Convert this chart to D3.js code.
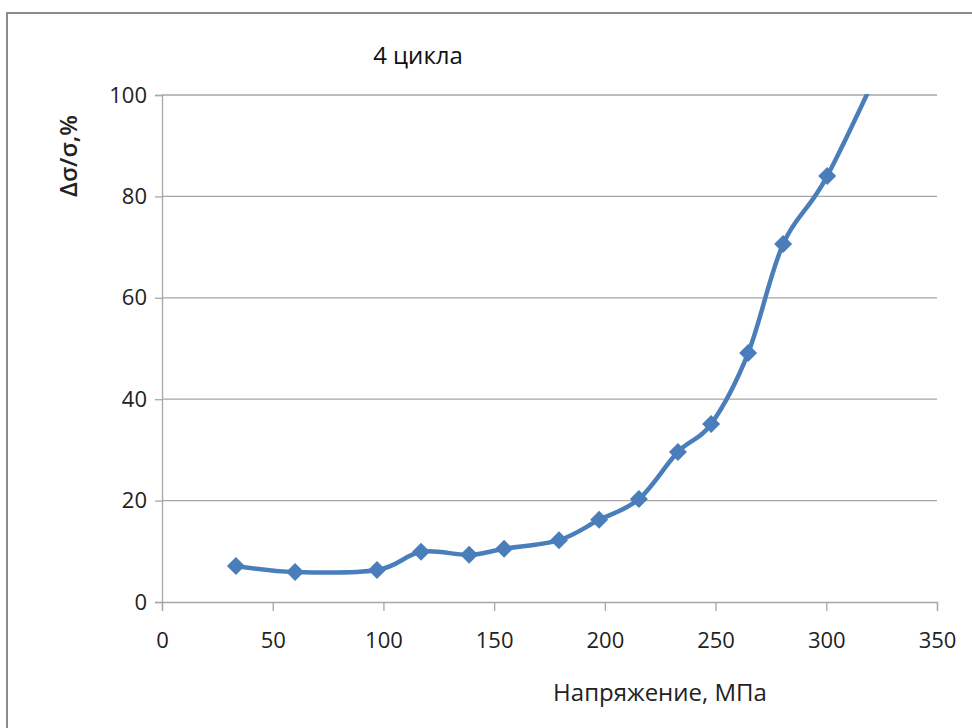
<!DOCTYPE html>
<html><head><meta charset="utf-8">
<script src="https://cdn.jsdelivr.net/npm/d3@7"></script>
<style>body{margin:0;background:#fff;} text{font-family:"Open Sans","Liberation Sans",sans-serif;}</style>
</head><body>
<svg id="c" width="972" height="728"></svg>
<script>
const stress = [33.4, 60.1, 97.1, 117, 138.7, 154.5, 179.3, 197.4, 215.4, 233, 248, 264.7, 280.5, 300.4, 332];
const delta  = [7.1, 5.9, 6.3, 9.9, 9.3, 10.5, 12.2, 16.2, 20.3, 29.6, 35.1, 49.1, 70.6, 84.0, 113];
const xTicks = [0, 50, 100, 150, 200, 250, 300, 350];
const yTicks = [0, 20, 40, 60, 80, 100];
const title = "4 цикла";
const xTitle = "Напряжение, МПа";
const yTitle = "Δσ/σ,%";

const svg = d3.select("#c");
const L = 162, R = 937, T = 95, B = 602;
const x = d3.scaleLinear().domain([0, 350]).range([L, R]);
const y = d3.scaleLinear().domain([0, 100]).range([B, T]);

// outer border
svg.append("rect").attr("x", 7).attr("y", 13).attr("width", 980).attr("height", 730)
  .attr("fill", "none").attr("stroke", "#8c8c8c").attr("stroke-width", 2);

// gridlines
svg.append("g").selectAll("line").data(yTicks.filter(d => d > 0)).join("line")
  .attr("x1", L).attr("x2", R).attr("y1", d => y(d)).attr("y2", d => y(d))
  .attr("stroke", "#a6a6a6").attr("stroke-width", 1.3);

// y axis
const ya = svg.append("g").attr("transform", `translate(${L},0)`)
  .call(d3.axisLeft(y).tickValues(yTicks).tickSize(7).tickPadding(8));
ya.select(".domain").attr("stroke", "#a6a6a6").attr("stroke-width", 1.3);
ya.selectAll(".tick line").attr("stroke", "#a6a6a6").attr("stroke-width", 1.3);
ya.selectAll("text").attr("font-size", 22).attr("fill", "#222").style("font-family", "'Open Sans',sans-serif");

// x axis
const xa = svg.append("g").attr("transform", `translate(0,${B})`)
  .call(d3.axisBottom(x).tickValues(xTicks).tickSize(9).tickPadding(21));
xa.select(".domain").attr("stroke", "#a6a6a6").attr("stroke-width", 1.3);
xa.selectAll(".tick line").attr("stroke", "#a6a6a6").attr("stroke-width", 1.3);
xa.selectAll("text").attr("font-size", 22).attr("fill", "#222").style("font-family", "'Open Sans',sans-serif");

// clip
svg.append("clipPath").attr("id", "pc").append("rect")
  .attr("x", L).attr("y", T - 1).attr("width", R - L).attr("height", B - T + 20);

const pts = stress.map((s, i) => [s, delta[i]]);
const line = d3.line().x(d => x(d[0])).y(d => y(d[1])).curve(d3.curveCardinal.tension(0));
svg.append("path").datum(pts).attr("clip-path", "url(#pc)")
  .attr("d", line).attr("fill", "none").attr("stroke", "#4a7ebb").attr("stroke-width", 4.5)
  .attr("stroke-linejoin", "round");

svg.append("g").attr("clip-path", "url(#pc)").selectAll("path").data(pts.filter(d => d[1] <= 100)).join("path")
  .attr("transform", d => `translate(${x(d[0])},${y(d[1])})`)
  .attr("d", "M0,-9 L9,0 L0,9 L-9,0 Z").attr("fill", "#4a7ebb");

// titles
svg.append("text").attr("x", 418).attr("y", 64).attr("text-anchor", "middle")
  .attr("font-size", 24).attr("fill", "#111").text(title);
svg.append("text").attr("x", 660).attr("y", 701).attr("text-anchor", "middle")
  .attr("font-size", 24).attr("fill", "#222").text(xTitle);
svg.append("text").attr("transform", "translate(77,156) rotate(-90)").attr("text-anchor", "middle")
  .attr("font-size", 24).attr("font-weight", "600").attr("fill", "#222").text(yTitle);
</script>
</body></html>
